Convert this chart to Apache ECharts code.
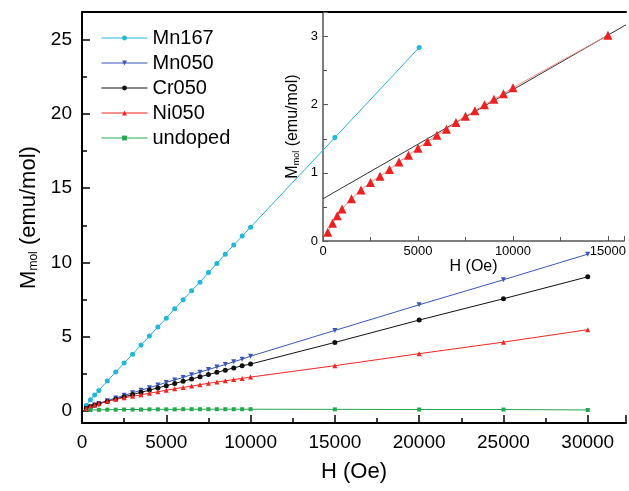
<!DOCTYPE html>
<html>
<head>
<meta charset="utf-8">
<title>M vs H</title>
<script src="https://cdn.jsdelivr.net/npm/echarts@6/dist/echarts.min.js"></script>
<style>
html, body { margin: 0; padding: 0; background: #fff; }
#main { width: 629px; height: 491px; }
</style>
</head>
<body>
<div id="main"></div>
<script>
// 磁场 H (Oe)
var fieldLow = [250, 500, 750, 1000, 1500, 2000, 2500, 3000, 3500, 4000, 4500, 5000, 5500, 6000, 6500, 7000, 7500, 8000, 8500, 9000, 9500, 10000];
var fieldHigh = [15000, 20000, 25000, 30000];
var fieldUndoped = [500, 1000, 1500, 2000, 2500, 3000, 3500, 4000, 4500, 5000, 5500, 6000, 6500, 7000, 7500, 8000, 8500, 9000, 9500, 10000, 15000, 20000, 25000, 30000];

// M_mol (emu/mol)
var mn167 = [0.34, 0.72, 1.04, 1.35, 1.98, 2.59, 3.20, 3.80, 4.41, 5.02, 5.63, 6.23, 6.86, 7.47, 8.08, 8.66, 9.31, 9.92, 10.55, 11.16, 11.77, 12.37, 18.42, 24.5];
var mn050 = [0.14, 0.26, 0.37, 0.47, 0.66, 0.84, 1.02, 1.19, 1.36, 1.53, 1.71, 1.89, 2.06, 2.23, 2.41, 2.58, 2.76, 2.93, 3.10, 3.28, 3.46, 3.66, 5.40, 7.13, 8.82, 10.55];
var cr050 = [0.13, 0.25, 0.35, 0.44, 0.61, 0.77, 0.92, 1.07, 1.22, 1.37, 1.52, 1.67, 1.82, 1.97, 2.12, 2.27, 2.42, 2.57, 2.72, 2.87, 3.01, 3.13, 4.59, 6.10, 7.54, 9.02];
var ni050 = [0.13, 0.26, 0.37, 0.47, 0.62, 0.75, 0.86, 0.95, 1.05, 1.16, 1.26, 1.36, 1.46, 1.55, 1.64, 1.74, 1.83, 1.91, 2.00, 2.08, 2.16, 2.25, 3.02, 3.83, 4.61, 5.45];
var undoped = [0.03, 0.04, 0.05, 0.05, 0.06, 0.06, 0.06, 0.07, 0.07, 0.07, 0.07, 0.08, 0.08, 0.08, 0.08, 0.08, 0.08, 0.08, 0.08, 0.08, 0.07, 0.06, 0.06, 0.03];

// 插图里 Ni050 高场部分的线性拟合
var fitField = [0, 17000];
var fitM = [0.62, 3.34];

var legendNames = ['Mn167', 'Mn050', 'Cr050', 'Ni050', 'undoped'];

var FONT = '"Liberation Sans", Arial, sans-serif';

function toPoints(xs, ys) {
	var arr = [];
	for (var i = 0; i < ys.length; i++) {
		arr.push([xs[i], ys[i]]);
	}
	return arr;
}

var allField = fieldLow.concat(fieldHigh);

function mainSeries(name, xs, ys, color, symbol, size, rotate) {
	return {
		name: name,
		type: 'line',
		xAxisIndex: 0,
		yAxisIndex: 0,
		data: toPoints(xs, ys),
		symbol: symbol,
		symbolSize: size,
		symbolRotate: rotate || 0,
		color: color,
		lineStyle: { width: 1, color: color },
		itemStyle: { color: color },
		clip: true
	};
}

var chart = echarts.init(document.getElementById('main'));

var option = {
	animation: false,
	backgroundColor: '#fff',
	textStyle: { fontFamily: FONT },
	grid: [
		{ left: 82, top: 12, right: 0, bottom: 68 },   // 主图
		{ left: 323, top: 12, right: 0, bottom: 250 }  // 插图
	],
	legend: {
		data: legendNames,
		orient: 'vertical',
		left: 96,
		top: 23,
		itemWidth: 46,
		itemHeight: 6,
		itemGap: 5,
		lineStyle: { width: 1 },
		textStyle: { fontSize: 20, color: '#000', fontFamily: FONT }
	},
	xAxis: [
		{
			type: 'value', gridIndex: 0, min: 0, max: 32270, interval: 5000,
			axisLine: { onZero: false, lineStyle: { color: '#000', width: 2 } },
			axisTick: { inside: true, length: 8, lineStyle: { color: '#000', width: 1.5 } },
			minorTick: { show: true, splitNumber: 2, length: 5, lineStyle: { color: '#000', width: 1.5 } },
			splitLine: { show: false },
			axisLabel: {
				fontSize: 19, color: '#000', margin: 10, fontFamily: FONT,
				formatter: function (v) { return v % 5000 === 0 ? String(v) : ''; }
			},
			name: 'H (Oe)', nameLocation: 'middle', nameGap: 38,
			nameTextStyle: { fontSize: 22, color: '#000', fontFamily: FONT }
		},
		{
			// 上边框
			type: 'value', gridIndex: 0, position: 'top', min: 0, max: 32270,
			axisLine: { onZero: false, lineStyle: { color: '#000', width: 2 } },
			axisTick: { show: false }, axisLabel: { show: false }, splitLine: { show: false }
		},
		{
			type: 'value', gridIndex: 1, min: 0, max: 15855, interval: 5000,
			axisLine: { onZero: false, lineStyle: { color: '#555', width: 1.5 } },
			axisTick: { inside: true, length: 5, lineStyle: { color: '#555' } },
			minorTick: { show: true, splitNumber: 2, length: 4, lineStyle: { color: '#555' } },
			splitLine: { show: false },
			axisLabel: {
				fontSize: 13, color: '#000', margin: 4, fontFamily: FONT,
				formatter: function (v) { return v % 5000 === 0 ? String(v) : ''; }
			},
			name: 'H (Oe)', nameLocation: 'middle', nameGap: 16,
			nameTextStyle: { fontSize: 16, color: '#000', fontFamily: FONT }
		}
	],
	yAxis: [
		{
			type: 'value', gridIndex: 0, min: -0.85, max: 26.9, splitNumber: 5,
			axisLine: { onZero: false, lineStyle: { color: '#000', width: 2 } },
			axisTick: { inside: true, length: 8, lineStyle: { color: '#000', width: 1.5 } },
			minorTick: { show: true, splitNumber: 2, length: 5, lineStyle: { color: '#000', width: 1.5 } },
			splitLine: { show: false },
			axisLabel: {
				fontSize: 19, color: '#000', margin: 10, fontFamily: FONT,
				formatter: function (v) { return v % 5 === 0 ? String(v) : ''; }
			},
			name: '{m|M}{s|mol}{m| (emu/mol)}', nameLocation: 'middle', nameGap: 42,
			nameTextStyle: {
				color: '#000',
				rich: {
					m: { fontSize: 22, fontFamily: FONT, color: '#000' },
					s: { fontSize: 12, fontFamily: FONT, color: '#000', verticalAlign: 'bottom' }
				}
			}
		},
		{
			type: 'value', gridIndex: 1, min: 0, max: 3.36, interval: 1,
			axisLine: { onZero: false, lineStyle: { color: '#555', width: 1.5 } },
			axisTick: { inside: true, length: 5, lineStyle: { color: '#555' } },
			minorTick: { show: true, splitNumber: 2, length: 4, lineStyle: { color: '#555' } },
			splitLine: { show: false },
			axisLabel: {
				fontSize: 13, color: '#000', margin: 5, fontFamily: FONT,
				formatter: function (v) { return v % 1 === 0 ? String(v) : ''; }
			},
			name: '{m|M}{s|mol}{m| (emu/mol)}', nameLocation: 'middle', nameGap: 22,
			nameTextStyle: {
				color: '#000',
				rich: {
					m: { fontSize: 16, fontFamily: FONT, color: '#000' },
					s: { fontSize: 9, fontFamily: FONT, color: '#000', verticalAlign: 'bottom' }
				}
			}
		}
	],
	series: [
		mainSeries('Mn167', fieldLow.concat([15000, 20000]), mn167, '#22b6d8', 'circle', 5),
		mainSeries('Mn050', allField, mn050, '#3b55bd', 'triangle', 5, 180),
		mainSeries('Cr050', allField, cr050, '#111111', 'circle', 5),
		mainSeries('Ni050', allField, ni050, '#ef2622', 'triangle', 5),
		mainSeries('undoped', fieldUndoped, undoped, '#22a84e', 'rect', 4),
		{
			name: 'Ni050 fit',
			type: 'line',
			xAxisIndex: 2,
			yAxisIndex: 1,
			data: toPoints(fitField, fitM),
			symbol: 'none',
			lineStyle: { width: 1, color: '#333' },
			clip: true,
			z: 3
		},
		{
			name: 'Ni050 inset',
			type: 'line',
			xAxisIndex: 2,
			yAxisIndex: 1,
			data: toPoints(fieldLow.concat([15000]), ni050.slice(0, 23)),
			symbol: 'triangle',
			symbolSize: 9,
			lineStyle: { width: 1, color: '#f48a84' },
			itemStyle: { color: '#ef2020' },
			clip: true,
			z: 4
		}
	]
};

chart.setOption(option);
</script>
</body>
</html>
